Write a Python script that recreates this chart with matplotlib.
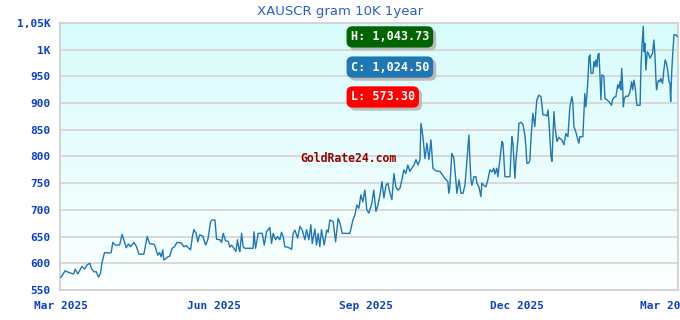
import numpy as np
import pandas as pd
import matplotlib
matplotlib.use("Agg")
import matplotlib.pyplot as plt
from matplotlib import transforms
from matplotlib.colors import LinearSegmentedColormap

# ---------------- data ----------------
start_date = "2025-03-01"
day_offsets = [
    0.0, 2.6, 5.2, 7.8, 8.6, 10.2, 12.7, 14.3, 15.8, 17.5, 18.3, 19.9, 21.3, 22.7, 23.9, 24.7,
    26.3, 29.3, 30.3, 31.3, 32.7, 35.4, 36.9, 38.4, 39.3, 40.8, 42.0, 44.0, 45.6, 47.0, 50.0,
    52.0, 53.4, 56.4, 58.4, 59.5, 60.4, 61.4, 62.0, 64.5, 65.5, 67.0, 68.5, 69.9, 72.5, 74.1,
    75.5, 78.1, 79.3, 80.1, 81.5, 82.5, 83.6, 85.5, 87.2, 88.6, 90.2, 91.1, 92.8, 93.8, 95.8,
    96.8, 97.8, 99.2, 100.8, 101.8, 102.8, 104.2, 105.4, 106.4, 107.2, 107.8, 108.9, 109.8,
    110.8, 115.8, 116.3, 117.3, 118.9, 121.3, 122.5, 123.9, 125.9, 126.9, 127.9, 129.3, 130.5,
    131.9, 132.9, 133.9, 134.9, 136.6, 138.0, 139.0, 139.9, 141.0, 142.6, 144.0, 145.4, 147.0,
    148.0, 149.4, 150.6, 151.4, 153.0, 154.0, 155.0, 156.0, 157.0, 158.6, 160.1, 161.0, 162.0,
    164.0, 165.5, 167.0, 168.1, 169.5, 172.7, 174.1, 175.9, 177.1, 178.3, 179.5, 180.7, 181.9,
    183.1, 184.3, 185.5, 187.3, 188.5, 189.8, 191.0, 192.2, 193.4, 194.6, 195.8, 197.0, 198.2,
    199.4, 200.6, 201.8, 203.0, 204.2, 205.4, 206.6, 207.8, 209.0, 210.2, 211.4, 212.7, 213.9,
    215.1, 216.3, 216.9, 218.1, 219.3, 220.5, 221.7, 222.9, 223.5, 224.1, 225.9, 228.3, 231.3,
    233.1, 233.7, 234.3, 235.5, 236.7, 237.9, 238.5, 239.8, 241.0, 242.2, 243.4, 244.6, 245.8,
    246.4, 247.0, 247.6, 248.8, 250.0, 250.6, 251.8, 252.4, 253.0, 253.6, 254.8, 256.0, 257.2,
    258.4, 259.6, 260.8, 261.4, 262.6, 263.2, 264.5, 265.7, 266.3, 266.9, 267.5, 270.5, 271.1,
    271.7, 272.3, 273.5, 274.1, 275.3, 275.9, 277.1, 278.3, 279.5, 280.1, 280.7, 281.9, 282.5,
    283.1, 284.3, 285.5, 286.1, 286.7, 287.9, 289.2, 290.4, 291.6, 292.8, 293.4, 294.0, 295.2,
    295.8, 296.4, 297.0, 297.6, 298.8, 300.0, 300.6, 301.8, 303.0, 304.2, 305.4, 306.6, 307.8,
    308.4, 309.0, 310.2, 311.4, 312.0, 312.6, 314.4, 315.0, 315.6, 316.2, 316.9, 317.5, 318.1,
    318.7, 319.3, 320.5, 321.1, 321.7, 322.3, 322.9, 323.5, 324.1, 324.7, 325.3, 325.9, 327.1,
    327.7, 328.9, 330.1, 331.7, 332.3, 333.3, 334.3, 335.4, 336.1, 336.7, 337.3, 337.8, 338.4,
    338.8, 339.4, 340.4, 341.8, 342.8, 343.8, 344.4, 345.2, 346.0, 346.9, 348.9, 349.4, 350.0,
    350.8, 351.2, 351.8, 352.4, 353.2, 354.0, 354.8, 355.8, 356.4, 357.2, 357.8, 358.4, 358.8,
    359.4, 360.0, 360.8, 361.4, 362.4, 363.2, 364.0, 364.8, 365.6, 366.3, 366.9, 367.3, 367.9,
    368.5, 369.3, 370.5, 371.3,
]
prices = [
    573.3, 586, 582, 580, 589, 580, 594, 589, 597, 600, 591, 584, 584, 574, 581, 600,
    620, 619, 620, 639, 634, 634, 654, 639, 629, 636, 631, 639, 631, 617, 617,
    650, 637, 635, 615, 620, 612, 625, 606, 612, 613, 628, 631, 639, 638, 631,
    633, 625, 651, 663, 656, 640, 653, 651, 634, 645, 678, 681, 681, 645, 644,
    639, 656, 642, 641, 630, 634, 628, 622, 644, 628, 622, 656, 631,
    628, 628, 659, 628, 656, 656, 634, 659, 667, 637, 656, 644, 650,
    644, 658, 650, 631, 630, 628, 626, 656, 662, 647, 669, 662, 644,
    663, 644, 672, 637, 664, 634, 656, 631, 663, 634, 662, 658, 681,
    678, 640, 684, 675, 656, 656, 656, 681, 690, 709, 703, 728, 715,
    737, 700, 694, 712, 737, 697, 709, 728, 753, 722, 746, 750, 732,
    719, 768, 743, 737, 740, 756, 775, 768, 784, 772, 778, 784, 794,
    784, 794, 862, 837, 796, 825, 794, 831, 806, 778, 773, 772, 759,
    753, 731, 743, 806, 797, 756, 731, 756, 731, 731, 746, 793, 840,
    793, 756, 746, 762, 762, 750, 743, 734, 725, 750, 746, 743, 756,
    775, 771, 778, 767, 778, 762, 797, 828, 825, 793, 762, 762, 803,
    837, 825, 759, 793, 831, 862, 864, 860, 840, 818, 787, 788, 793,
    831, 881, 856, 884, 906, 915, 912, 878, 878, 876, 887, 865, 800,
    791, 840, 884, 856, 828, 836, 834, 831, 822, 843, 837, 893, 912,
    900, 856, 846, 831, 825, 837, 837, 878, 918, 893, 916, 946, 987,
    990, 956, 956, 978, 968, 981, 968, 990, 993, 953, 906, 953, 950,
    909, 906, 903, 896, 906, 911, 912, 934, 928, 940, 925, 965, 931,
    893, 909, 913, 913, 921, 940, 925, 943, 928, 896, 896, 968, 1006,
    1043.73, 996, 1012, 962, 996, 993, 984, 990, 993, 1018, 993, 946, 925,
    937, 943, 940, 946, 937, 962, 981, 974, 959, 940, 937, 903, 956,
    990, 1028, 1028, 1024.5,
]
y_ticks = [550, 600, 650, 700, 750, 800, 850, 900, 950, 1000, 1050]
y_tick_labels = ["550", "600", "650", "700", "750", "800", "850", "900", "950", "1K", "1,05K"]
x_ticks = ["2025-03-01", "2025-06-01", "2025-09-01", "2025-12-01", "2026-03-01"]
x_tick_labels = ["Mar 2025", "Jun 2025", "Sep 2025", "Dec 2025", "Mar 2026"]
title = "XAUSCR gram 10K 1year"
badges = [("H: 1,043.73", "#006400"), ("C: 1,024.50", "#1f77b4"), ("L: 573.30", "#ff0000")]
watermark = "GoldRate24.com"

# ---------------- figure ----------------
dates = pd.Timestamp(start_date) + pd.to_timedelta(day_offsets, unit="D")

fig = plt.figure(figsize=(6.8, 3.2), dpi=100)
fig.patch.set_facecolor("white")
ax = fig.add_axes([0.0885, 0.094, 0.9090, 0.834])

# gradient background
grad = np.linspace(0, 1, 256).reshape(-1, 1)
cmap = LinearSegmentedColormap.from_list("bg", ["#d8fcfc", "#fbffff"])
ax.imshow(grad, aspect="auto", cmap=cmap, extent=[0, 1, 0, 1],
          transform=ax.transAxes, zorder=0)

ax.plot(dates, prices, color="#1f77b4", lw=1.0, zorder=3)

x0 = pd.Timestamp(start_date) - pd.Timedelta(days=0.4)
x1 = pd.Timestamp(start_date) + pd.Timedelta(days=371.9)
ax.set_xlim(x0, x1)
ax.set_ylim(550, 1050)

mono = "DejaVu Sans Mono"
tick_color = "#0b3fce"
ax.set_yticks(y_ticks)
ax.set_yticklabels(y_tick_labels, fontfamily=mono, fontweight="bold",
                   fontsize=8, color=tick_color)
ax.set_xticks([pd.Timestamp(d) for d in x_ticks])
ax.set_xticklabels(x_tick_labels, fontfamily=mono, fontweight="bold",
                   fontsize=8, color=tick_color)
ax.tick_params(axis="both", length=0, pad=7)
ax.tick_params(axis="x", pad=8)
ax.grid(axis="y", color="#d6d6d6", lw=1.3, zorder=1)
ax.grid(axis="x", visible=False)
for s in ax.spines.values():
    s.set_color("#d4d4d4")
    s.set_linewidth(1.5)
ax.set_axisbelow(True)

fig.text(0.5, 0.963, title, ha="center", va="center", fontsize=9.5,
         color="#2a5fcc", family="DejaVu Sans")

ax.text(0.466, 0.494, watermark, transform=ax.transAxes, ha="center",
        va="center", fontfamily=mono, fontweight="bold", fontsize=8.3,
        color="#990000", zorder=4)

badge_y = [0.948, 0.835, 0.723]
for (txt, col), by in zip(badges, badge_y):
    # shadow: a box of the same size (blank monospace string) offset down-right
    shadow_tr = transforms.offset_copy(ax.transAxes, fig=fig, x=3, y=-3, units="dots")
    ax.text(0.470, by, " " * len(txt), transform=shadow_tr, ha="left", va="center",
            fontfamily=mono, fontweight="bold", fontsize=8.5, color="#bbbbbb",
            bbox=dict(boxstyle="round,pad=0.35,rounding_size=0.5", fc="#bbbbbb", ec="none"),
            zorder=5)
    ax.text(0.470, by, txt, transform=ax.transAxes, ha="left", va="center",
            fontfamily=mono, fontweight="bold", fontsize=8.5, color="white",
            bbox=dict(boxstyle="round,pad=0.35,rounding_size=0.5", fc=col, ec="none"),
            zorder=6)

fig.savefig("out.png", dpi=100)
